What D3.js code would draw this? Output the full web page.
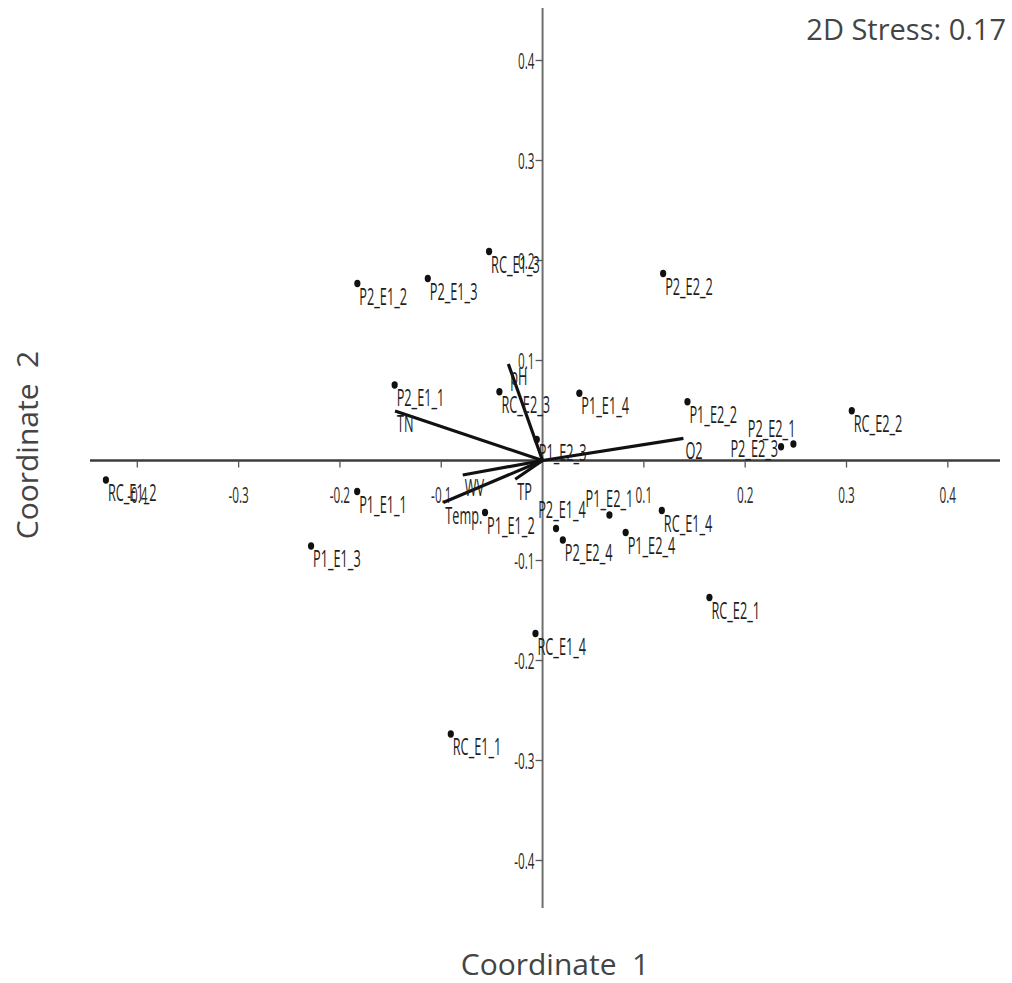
<!DOCTYPE html>
<html>
<head>
<meta charset="utf-8">
<script src="https://cdn.jsdelivr.net/npm/d3@7"></script>
<style>
  html, body { margin: 0; padding: 0; background: #fff; }
  svg { display: block; }
</style>
</head>
<body>
<svg id="chart" width="1012" height="983"></svg>
<script>
// ---- data ----
const sampleNames = ["RC_E1_2","P1_E1_1","P1_E1_3","P1_E1_2","P2_E1_4","P2_E2_4","P1_E2_1","P1_E2_4","RC_E1_4","RC_E2_1","RC_E1_4","RC_E1_1","P2_E1_2","P2_E1_3","RC_E1_3","P2_E2_2","P2_E1_1","RC_E2_3","P1_E2_3","P1_E1_4","P1_E2_2","P2_E2_3","P2_E2_1","RC_E2_2"];
const sampleX = [-0.431,-0.183,-0.2285,-0.0568,0.0133,0.020,0.066,0.082,0.1177,0.1647,-0.007,-0.0906,-0.1828,-0.1133,-0.0528,0.119,-0.146,-0.0426,-0.0057,0.0363,0.143,0.2354,0.2476,0.3052];
const sampleY = [-0.0195,-0.031,-0.0855,-0.052,-0.068,-0.0795,-0.0545,-0.072,-0.050,-0.137,-0.173,-0.2735,0.177,0.182,0.209,0.187,0.0755,0.0688,0.021,0.0672,0.0588,0.0138,0.0165,0.0498];

const vectorNames = ["TN","pH","O2","WV","Temp.","TP"];
const vectorX = [-0.1456,-0.0338,0.139,-0.0788,-0.098,-0.027];
const vectorY = [0.0495,0.0965,0.0222,-0.0145,-0.042,-0.0188];

const xTicks = [-0.4,-0.3,-0.2,-0.1,0.1,0.2,0.3,0.4];
const yTicks = [-0.4,-0.3,-0.2,-0.1,0.1,0.2,0.3,0.4];
const xTickLabels = ["-0.4","-0.3","-0.2","-0.1","0.1","0.2","0.3","0.4"];
const yTickLabels = ["-0.4","-0.3","-0.2","-0.1","0.1","0.2","0.3","0.4"];

const titleText = "2D Stress: 0.17";
const xTitle = "Coordinate  1";
const yTitle = "Coordinate  2";

// ---- layout ----
const svg = d3.select("#chart");
const x = d3.scaleLinear().domain([-0.4467, 0.4515]).range([90, 1000]);
const y = d3.scaleLinear().domain([0.4525, -0.4475]).range([8, 908]);
const x0 = x(0), y0 = y(0);

const narrowFont = "'Open Sans', 'DejaVu Sans', sans-serif";
const textColor = "#1e1e1e";

// label placement overrides (by sample index): anchor and offset from the dot
const labelPlace = {
  4:  {anchor: "middle", dx: 6,  dy: -11},   // P2_E1_4
  6:  {anchor: "middle", dx: 0,  dy: -8},    // P1_E2_1
  21: {anchor: "end",    dx: -3, dy: 10},    // P2_E2_3
  22: {anchor: "end",    dx: 2,  dy: -7}     // P2_E2_1
};

function narrowText(g, px, py, txt, size, sx, anchor, color) {
  return g.append("g").attr("transform", `translate(${px},${py}) scale(${sx},1)`)
    .append("text")
    .attr("x", 0).attr("y", 0)
    .attr("font-family", narrowFont)
    .attr("font-size", size)
    .attr("fill", color || textColor)
    .attr("text-anchor", anchor || "start")
    .text(txt);
}

// axes lines
svg.append("line").attr("x1", x.range()[0]).attr("x2", x.range()[1])
  .attr("y1", y0).attr("y2", y0).attr("stroke", "#3c3c3c").attr("stroke-width", 2.5);
svg.append("line").attr("x1", x0).attr("x2", x0)
  .attr("y1", y.range()[0]).attr("y2", y.range()[1]).attr("stroke", "#6e6e6e").attr("stroke-width", 2);

// x ticks
const gx = svg.append("g");
xTicks.forEach((v, i) => {
  gx.append("line").attr("x1", x(v)).attr("x2", x(v)).attr("y1", y0).attr("y2", y0 + 7)
    .attr("stroke", "#555").attr("stroke-width", 1.3);
  narrowText(gx, x(v), y0 + 42, xTickLabels[i], 21, 0.56, "middle", "#2a2a2a");
});
// y ticks
const gy = svg.append("g");
yTicks.forEach((v, i) => {
  gy.append("line").attr("x1", x0 - 7).attr("x2", x0).attr("y1", y(v)).attr("y2", y(v))
    .attr("stroke", "#555").attr("stroke-width", 1.3);
  narrowText(gy, x0 - 8, y(v) + 8, yTickLabels[i], 21, 0.56, "end", "#2a2a2a");
});

// vectors
const gv = svg.append("g");
vectorNames.forEach((n, i) => {
  gv.append("line").attr("x1", x0).attr("y1", y0)
    .attr("x2", x(vectorX[i])).attr("y2", y(vectorY[i]))
    .attr("stroke", "#111").attr("stroke-width", 3.2).attr("stroke-linecap", "butt");
});
vectorNames.forEach((n, i) => {
  narrowText(gv, x(vectorX[i]) + 2, y(vectorY[i]) + 21, n, 24, 0.53, "start");
});

// points
const gp = svg.append("g");
sampleNames.forEach((n, i) => {
  gp.append("ellipse").attr("cx", x(sampleX[i])).attr("cy", y(sampleY[i]))
    .attr("rx", 3.1).attr("ry", 3.7).attr("fill", "#111");
  const p = labelPlace[i] || {anchor: "start", dx: 2, dy: 21};
  narrowText(gp, x(sampleX[i]) + p.dx, y(sampleY[i]) + p.dy, n, 24, 0.53, p.anchor);
});

// titles
svg.append("text").attr("x", 1006).attr("y", 40).attr("text-anchor", "end")
  .attr("font-family", narrowFont).attr("font-size", 29).attr("fill", "#444")
  .text(titleText);
svg.append("text").attr("x", 555).attr("y", 975).attr("text-anchor", "middle")
  .attr("font-family", narrowFont).attr("font-size", 30).attr("fill", "#444")
  .attr("xml:space", "preserve").style("white-space", "pre")
  .text(xTitle);
svg.append("text").attr("transform", "translate(38,445) rotate(-90)").attr("text-anchor", "middle")
  .attr("font-family", narrowFont).attr("font-size", 30).attr("fill", "#444")
  .attr("xml:space", "preserve").style("white-space", "pre")
  .text(yTitle);
</script>
</body>
</html>
